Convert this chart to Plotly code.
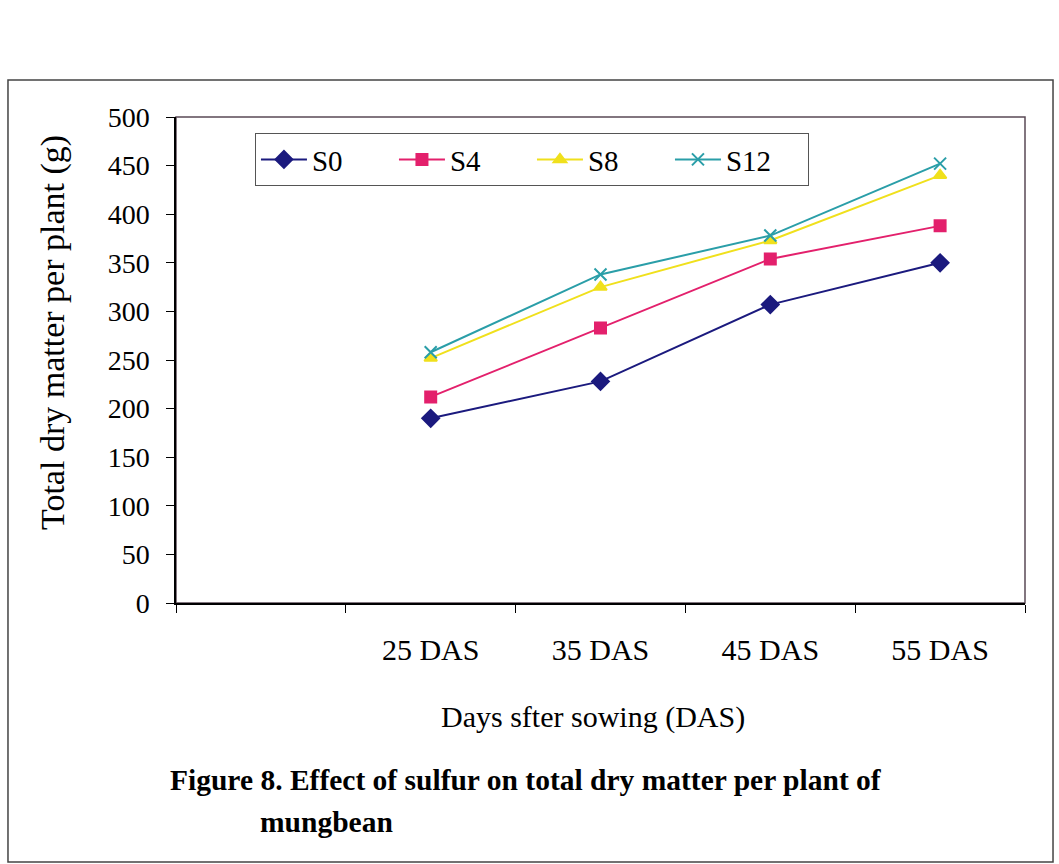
import plotly.graph_objects as go

categories = [" ", "25 DAS", "35 DAS", "45 DAS", "55 DAS"]
days = ["25 DAS", "35 DAS", "45 DAS", "55 DAS"]
s0 = [190, 228, 307, 350]
s4 = [212, 283, 354, 388]
s8 = [252, 325, 373, 440]
s12 = [258, 338, 378, 452]
y_ticks = [0, 50, 100, 150, 200, 250, 300, 350, 400, 450, 500]

FONT = "Liberation Serif, Times New Roman, serif"

fig = go.Figure()
series = [
    ("S0", s0, "#1b1a7e", "diamond", 13),
    ("S4", s4, "#e3206c", "square", 11),
    ("S8", s8, "#f0e01c", "triangle-up", 11),
    ("S12", s12, "#2a9ea8", "x-thin", 12),
]
for name, vals, col, sym, sz in series:
    fig.add_trace(go.Scatter(
        x=days, y=vals, name=name, mode="lines+markers",
        line=dict(color=col, width=2),
        marker=dict(symbol=sym, size=sz, color=col, line=dict(color=col, width=2)),
    ))

fig.update_layout(
    width=1059, height=864,
    margin=dict(l=176, r=34, t=117, b=261),
    paper_bgcolor="white", plot_bgcolor="white",
    font=dict(family=FONT, size=24, color="black"),
    showlegend=True,
    legend=dict(
        orientation="h", x=0.093, y=0.967, xanchor="left", yanchor="top",
        bgcolor="white", bordercolor="#555555", borderwidth=1,
        font=dict(family=FONT, size=29, color="black"),
        itemwidth=46, entrywidth=77, entrywidthmode="pixels", tracegroupgap=0,
    ),
    xaxis=dict(
        type="category", categoryorder="array", categoryarray=categories,
        range=[-0.5, 4.5], tickson="boundaries",
        showline=True, linecolor="black", linewidth=1.5, mirror=False,
        ticks="outside", ticklen=8, tickcolor="black",
        showgrid=False, zeroline=False, ticklabelstandoff=19,
        tickfont=dict(family=FONT, size=30),
    ),
    yaxis=dict(
        range=[0, 500], tickvals=y_ticks,
        showline=True, linecolor="black", linewidth=1.5,
        ticks="outside", ticklen=8, tickcolor="black",
        showgrid=False, zeroline=False, ticklabelstandoff=11,
        tickfont=dict(family=FONT, size=28),
    ),
    shapes=[
        dict(type="rect", xref="paper", yref="paper", x0=0, x1=1, y0=0, y1=1,
             line=dict(color="#5a4a55", width=1.5), layer="below"),
        dict(type="rect", xref="paper", yref="paper", x0=-0.1979, x1=1.033,
             y0=-0.533, y1=1.076, line=dict(color="#444444", width=1.5)),
    ],
    annotations=[
        dict(text="Total dry matter per plant (g)", xref="paper", yref="paper",
             x=-0.1449, y=0.5576, textangle=-90, showarrow=False,
             font=dict(family=FONT, size=34), xanchor="center", yanchor="middle"),
        dict(text="Days sfter sowing (DAS)", xref="paper", yref="paper",
             x=0.491, y=-0.2346, showarrow=False,
             font=dict(family=FONT, size=30), xanchor="center", yanchor="middle"),
        dict(text="<b>Figure 8. Effect of sulfur on total dry matter per plant of</b>",
             xref="paper", yref="paper", x=-0.0094, y=-0.364, showarrow=False,
             font=dict(family=FONT, size=29.5), xanchor="left", yanchor="middle"),
        dict(text="<b>mungbean</b>", xref="paper", yref="paper",
             x=0.0966, y=-0.4506, showarrow=False,
             font=dict(family=FONT, size=29.5), xanchor="left", yanchor="middle"),
    ],
)

fig.write_html("out.html")
